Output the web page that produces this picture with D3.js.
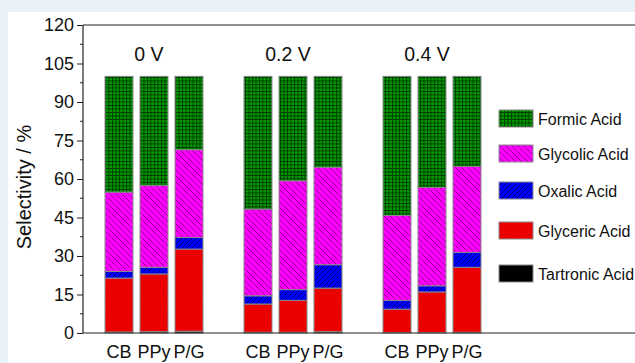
<!DOCTYPE html>
<html><head><meta charset="utf-8">
<script src="https://cdn.jsdelivr.net/npm/d3@7"></script>
<style>
html,body{margin:0;padding:0;background:#e8f0f8;}
svg{display:block;font-family:"Liberation Sans",Arial,sans-serif;}
</style></head><body>
<svg id="c" width="635" height="363"></svg>
<script>
const groups = ["0 V", "0.2 V", "0.4 V"];
const materials = ["CB", "PPy", "P/G"];
const seriesNames = ["Tartronic Acid", "Glyceric Acid", "Oxalic Acid", "Glycolic Acid", "Formic Acid"];
// values ordered: 0V CB, PPy, P/G, 0.2V CB, PPy, P/G, 0.4V CB, PPy, P/G
const tartronic = [0.4, 0.5, 0.7, 0.3, 0.3, 0.5, 0.2, 0.2, 0.3];
const glyceric  = [21.0, 22.5, 32.0, 11.0, 12.4, 17.0, 9.1, 15.8, 25.3];
const oxalic    = [2.6, 2.6, 4.5, 3.2, 4.2, 9.1, 3.4, 2.4, 5.8];
const glycolic  = [30.9, 31.9, 34.2, 33.8, 42.4, 38.0, 33.1, 38.3, 33.5];
const formic    = [45.1, 42.5, 28.6, 51.7, 40.7, 35.4, 54.2, 43.3, 35.1];
const yTicks = [0, 15, 30, 45, 60, 75, 90, 105, 120];
const legendOrder = ["Formic Acid", "Glycolic Acid", "Oxalic Acid", "Glyceric Acid", "Tartronic Acid"];

const seriesValues = {"Tartronic Acid": tartronic, "Glyceric Acid": glyceric, "Oxalic Acid": oxalic, "Glycolic Acid": glycolic, "Formic Acid": formic};

const rows = [];
groups.forEach((g, gi) => materials.forEach((m, mi) => {
  const r = {group: g, material: m};
  seriesNames.forEach(s => r[s] = seriesValues[s][gi * 3 + mi]);
  rows.push(r);
}));

const svg = d3.select("#c");
svg.append("rect").attr("x", 8).attr("y", 12).attr("width", 627).attr("height", 351).attr("fill", "#fff");

const defs = svg.append("defs");
function pat(id, color, build, size) {
  const p = defs.append("pattern").attr("id", id).attr("patternUnits", "userSpaceOnUse")
    .attr("width", size).attr("height", size);
  p.append("rect").attr("width", size).attr("height", size).attr("fill", color);
  build(p, size);
}
pat("pFormic", "#009a00", (p, s) => {
  p.append("path").attr("d", `M0,0.5H${s}M0.5,0V${s}`).attr("stroke", "#003a00").attr("stroke-width", 0.9);
}, 3.5);
pat("pGlycolic", "#ff00ff", (p, s) => {
  p.append("path").attr("d", `M0,0L${s},${s}M${-s},0L${s*0},${s}M${s},0L${2*s},${s}`).attr("stroke", "#7a007a").attr("stroke-width", 0.8);
}, 6);
pat("pOxalic", "#0000ff", (p, s) => {
  p.append("path").attr("d", `M0,${s}L${s},0M${-s},${s}L0,0M${s},${s}L${2*s},0`).attr("stroke", "#00006a").attr("stroke-width", 0.9);
}, 5);
pat("pGlyceric", "#ff0000", (p, s) => {
  p.append("path").attr("d", `M0,${s}L${s},0M${-s},${s}L0,0M${s},${s}L${2*s},0`).attr("stroke", "#9a0000").attr("stroke-width", 0.7);
}, 3.5);
const fills = {"Formic Acid": "url(#pFormic)", "Glycolic Acid": "url(#pGlycolic)", "Oxalic Acid": "url(#pOxalic)", "Glyceric Acid": "url(#pGlyceric)", "Tartronic Acid": "#000"};

const y = d3.scaleLinear().domain([0, 120]).range([333, 25]);
const xG = d3.scaleBand().domain(groups).range([105, 481]).paddingInner(41 / 139).paddingOuter(0);
const xM = d3.scaleBand().domain(materials).range([0, xG.bandwidth()]).paddingInner(0.2).paddingOuter(0);

const stack = d3.stack().keys(seriesNames)(rows);
const g = svg.append("g");
stack.forEach(layer => {
  g.selectAll(null).data(layer).enter().append("rect")
    .attr("x", d => xG(d.data.group) + xM(d.data.material))
    .attr("width", xM.bandwidth())
    .attr("y", d => y(d[1]))
    .attr("height", d => y(d[0]) - y(d[1]))
    .attr("fill", fills[layer.key])
    .attr("stroke", "#8a8a8a").attr("stroke-width", 1);
});

// axes
const axisG = svg.append("g").attr("transform", "translate(83,0)");
axisG.call(d3.axisLeft(y).tickValues(yTicks).tickSize(6).tickPadding(3))
  .call(a => a.select(".domain").remove());
axisG.selectAll("text").attr("font-size", 18).attr("fill", "#111").attr("font-family", "Liberation Sans, Arial, sans-serif");
axisG.selectAll("line").attr("stroke", "#222");
const minor = yTicks.slice(0, -1).map(v => v + 7.5);
axisG.selectAll(".minor").data(minor).enter().append("line")
  .attr("x1", -3).attr("x2", 0).attr("y1", d => y(d)).attr("y2", d => y(d)).attr("stroke", "#222");

svg.append("line").attr("x1", 83).attr("x2", 83).attr("y1", 25).attr("y2", 333).attr("stroke", "#222").attr("stroke-width", 1.2);
svg.append("line").attr("x1", 83).attr("x2", 635).attr("y1", 25).attr("y2", 25).attr("stroke", "#222").attr("stroke-width", 1.2);
svg.append("line").attr("x1", 83).attr("x2", 635).attr("y1", 333).attr("y2", 333).attr("stroke", "#222").attr("stroke-width", 1.2);

// x labels
rows.forEach(r => {
  svg.append("text").attr("x", xG(r.group) + xM(r.material) + xM.bandwidth() / 2)
    .attr("y", 358).attr("text-anchor", "middle").attr("font-size", 18).attr("fill", "#111").text(r.material);
});
groups.forEach(gr => {
  svg.append("text").attr("x", xG(gr) + xG.bandwidth() / 2 - 5).attr("y", 61)
    .attr("text-anchor", "middle").attr("font-size", 19.5).attr("fill", "#111").text(gr);
});

svg.append("text").attr("transform", "translate(31,187) rotate(-90)").attr("text-anchor", "middle")
  .attr("font-size", 20).attr("fill", "#111").text("Selectivity / %");

// legend
const legY = [110, 145, 182, 222, 265];
legendOrder.forEach((s, i) => {
  svg.append("rect").attr("x", 499).attr("y", legY[i]).attr("width", 34).attr("height", 17)
    .attr("fill", fills[s]).attr("stroke", "#8a8a8a").attr("stroke-width", 1);
  svg.append("text").attr("x", 538).attr("y", legY[i] + 14.5).attr("font-size", 16).attr("fill", "#111").text(s);
});
</script>
</body></html>
